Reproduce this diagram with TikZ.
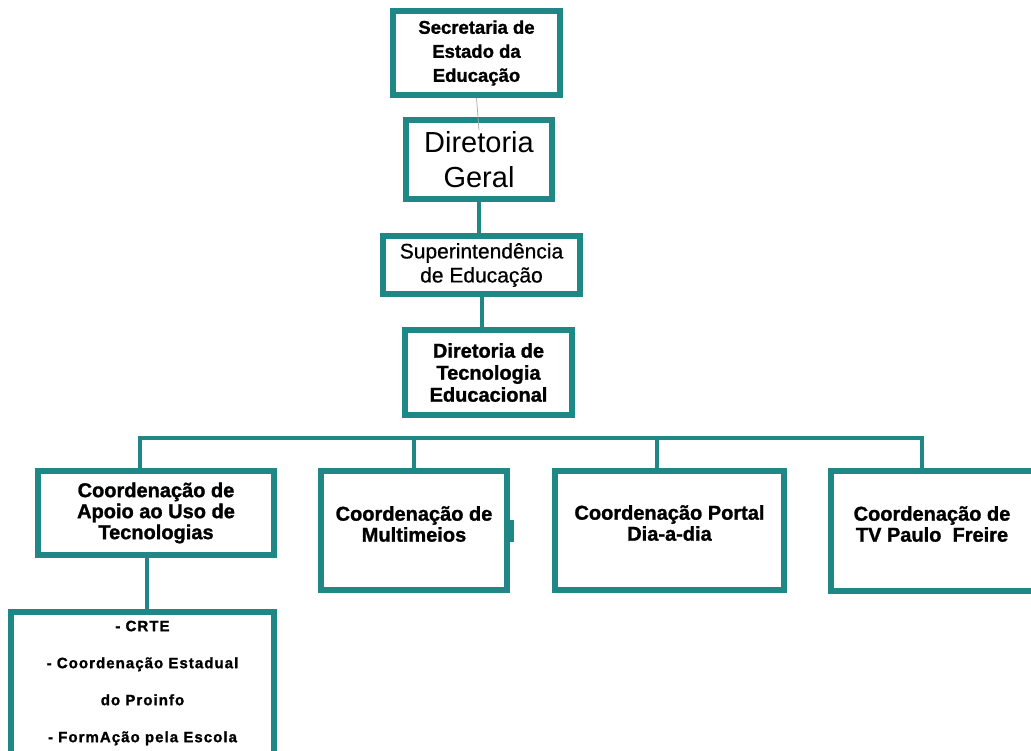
\documentclass[tikz,border=0pt]{standalone}
\usepackage{fontspec}
\setmainfont{Liberation Sans}[BoldFeatures={FakeBold=1.3}]
\newfontfamily\spaced{Liberation Sans}[LetterSpace=7,BoldFeatures={FakeBold=1.3}]
\newfontfamily\semib{Liberation Sans}[FakeBold=0.6]
\definecolor{teal1}{RGB}{32,135,135}
\begin{document}
\begin{tikzpicture}[x=1pt,y=-1pt,
  box/.style={draw=teal1,line width=6pt,fill=white,inner sep=0pt,align=center},
  lbl/.style={align=center,font=\bfseries\fontsize{20}{21}\selectfont},
  link/.style={draw=teal1,line width=4pt},
  thin/.style={draw=gray!70,line width=0.7pt}]
\useasboundingbox (0,0) rectangle (1031,751);
\fill[white] (0,0) rectangle (1031,751);
% top chain
\node[box,minimum width=167pt,minimum height=84pt,font=\bfseries\fontsize{18.5}{24}\selectfont] (sec) at (476.5,53) {Secretaria de\\Estado da\\Educação};
\node[box,minimum width=146pt,minimum height=79pt,font=\fontsize{29}{35}\selectfont] (dg) at (479,159.5) {Diretoria\\Geral};
\node[box,minimum width=197pt,minimum height=58pt,font=\semib\fontsize{21}{24}\selectfont] (sup) at (481.5,265) {Superintendência\\de Educação};
\node[box,minimum width=167pt,minimum height=85pt,font=\bfseries\fontsize{20}{22}\selectfont] (dte) at (488.5,372.5) {Diretoria de\\Tecnologia\\Educacional};
% row
\node[box,minimum width=236pt,minimum height=84pt,font=\bfseries\fontsize{20}{21}\selectfont] (A) at (156,513) {Coordenação de\\Apoio ao Uso de\\Tecnologias};
\node[box,minimum width=186pt,minimum height=119pt] (B) at (414,530.5) {};
\node[box,minimum width=229pt,minimum height=119pt] (C) at (669.5,530.5) {};
\node[box,minimum width=203pt,minimum height=120pt] (D) at (932.5,530.5) {};
\node[lbl] (Bt) at (414,524) {Coordenação de\\Multimeios};
\node[lbl] (Ct) at (669.5,523) {Coordenação Portal\\Dia-a-dia};
\node[lbl] (Dt) at (932,524) {Coordenação de\\TV Paulo\ \ Freire};
\fill[teal1] (510,520) rectangle (514,542);
% bottom box
\node[box,minimum width=263pt,minimum height=142pt,font=\spaced\bfseries\fontsize{15}{37}\selectfont] (E) at (142.5,683) {- CRTE\\- Coordenação Estadual\\do Proinfo\\- FormAção pela Escola};
% connectors
\coordinate (c12) at (479,130);
\draw[thin] (sec.south) -- (c12);
\draw[link] (dg.south) -- (dg.south |- sup.north);
\draw[link] (482,297) coordinate (s1) -- (s1 |- dte.north);
\coordinate (bA) at (140,438);
\coordinate (bB) at (414,438);
\coordinate (bC) at (657,438);
\coordinate (bD) at (922,438);
\draw[link,line width=3.5pt] (bA |- A.north) -- (bA) -- (bD) -- (bD |- D.north);
\draw[link] (bB) -- (bB |- B.north);
\draw[link] (bC) -- (bC |- C.north);
\coordinate (cAE) at (147,583);
\draw[link] (cAE |- A.south) -- (cAE |- E.north);
\end{tikzpicture}
\end{document}
